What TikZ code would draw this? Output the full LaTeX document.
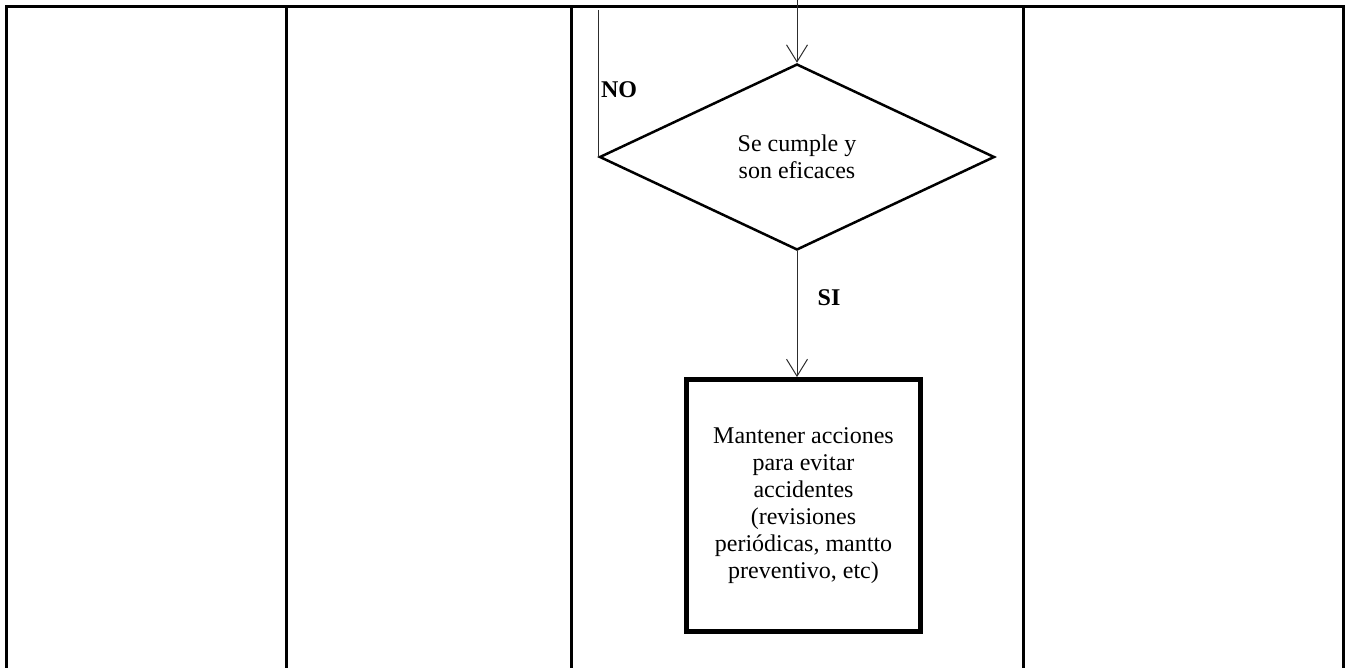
\documentclass[tikz,border=0pt]{standalone}
\usepackage{fontspec}
\setmainfont{Liberation Serif}
\usetikzlibrary{arrows.meta,shapes.geometric,positioning,calc}
\definecolor{ln}{RGB}{45,45,45}
\tikzset{
  grid/.style={line width=1.5pt,draw=black},
  dec/.style={diamond,draw=black,line width=1.25pt,minimum width=197.5pt,
    minimum height=93pt,inner sep=0pt,align=center},
  act/.style={rectangle,draw=black,line width=2.4pt,minimum width=117pt,
    minimum height=126pt,align=center},
  lbl/.style={font=\fontsize{12}{13.5}\selectfont\bfseries},
  arr/.style={-{Straight Barb[length=8.5pt,width=10.5pt]},line width=0.5pt,color=ln},
  lnk/.style={line width=0.5pt,color=ln},
}
\begin{document}
\begin{tikzpicture}[x=0.5pt,y=-0.5pt,font=\fontsize{12}{13.5}\selectfont]
  \useasboundingbox (0,0) rectangle (1349,668);
  % tabla
  \draw[grid] (6,668) -- (6,7) -- (1343,7) -- (1343,668);
  \foreach \x in {286,571,1023}
    \draw[grid] (\x,7) -- (\x,668);
  % nodos
  \node[dec] (chk) at (797,157) {Se cumple y\\son eficaces};
  \node[act] (keep) at (803.5,505.5) {Mantener acciones\\para evitar\\accidentes\\(revisiones\\periódicas, mantto\\preventivo, etc)};
  \coordinate (in) at (797,0);
  \coordinate (back) at (chk.west |- 0,10);
  \node[lbl] (no) at (619,90) {NO};
  \node[lbl] (si) at (829,298) {SI};
  % conectores
  \draw[arr] (in) -- (chk);
  \draw[lnk] (back) -- (chk.west);
  \draw[arr] (chk.south) -- (chk.south |- keep.north);
\end{tikzpicture}
\end{document}
